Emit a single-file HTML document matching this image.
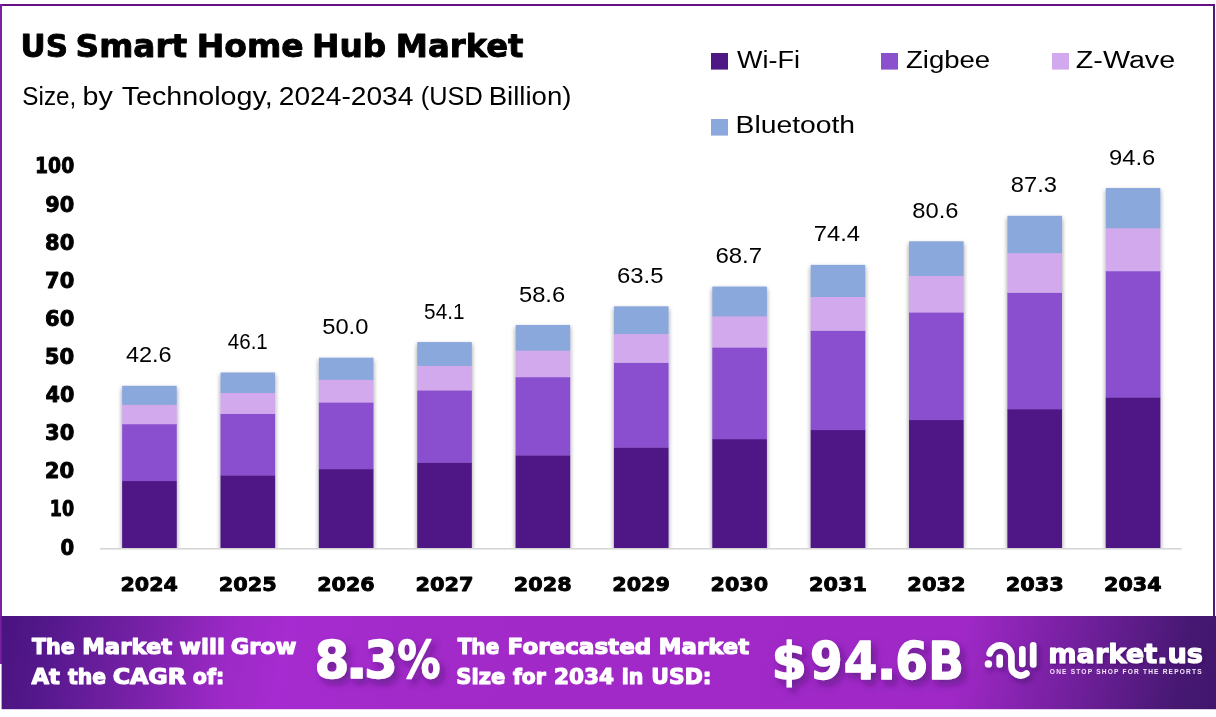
<!DOCTYPE html>
<html lang="en"><head><meta charset="utf-8"><title>US Smart Home Hub Market</title>
<style>html,body{margin:0;padding:0;background:#fff}body{width:1216px;height:717px;overflow:hidden}svg{display:block}text{font-family:"Liberation Sans",sans-serif}</style></head><body>
<svg width="1216" height="717" viewBox="0 0 1216 717">
<defs>
<linearGradient id="bg" gradientUnits="userSpaceOnUse" x1="0" y1="616" x2="1187.1" y2="853.4">
<stop offset="0.0000" stop-color="#49137f"/>
<stop offset="0.0364" stop-color="#52178a"/>
<stop offset="0.1215" stop-color="#7821a8"/>
<stop offset="0.1903" stop-color="#9c29c6"/>
<stop offset="0.2349" stop-color="#a62bd0"/>
<stop offset="0.3402" stop-color="#a22ac9"/>
<stop offset="0.4860" stop-color="#a129c7"/>
<stop offset="0.7841" stop-color="#9f28c6"/>
<stop offset="0.8748" stop-color="#74209f"/>
<stop offset="0.9679" stop-color="#461872"/>
<stop offset="1.0000" stop-color="#41156e"/>
</linearGradient>
<filter id="ts" x="-10%" y="-20%" width="125%" height="160%"><feDropShadow dx="4" dy="5" stdDeviation="3.8" flood-color="#3a0a5e" flood-opacity="0.5"/></filter>
<filter id="ts2" x="-10%" y="-30%" width="125%" height="190%"><feDropShadow dx="1.5" dy="2" stdDeviation="1.6" flood-color="#3a0a5e" flood-opacity="0.45"/></filter>
<filter id="ts3" x="-20%" y="-20%" width="150%" height="160%"><feDropShadow dx="2.5" dy="3.5" stdDeviation="2.5" flood-color="#3a0a5e" flood-opacity="0.55"/></filter>
<filter id="bs" x="-30%" y="-10%" width="160%" height="120%"><feDropShadow dx="0" dy="2.5" stdDeviation="2" flood-color="#20202a" flood-opacity="0.5"/></filter>
</defs>
<rect width="1216" height="717" fill="#fff"/>
<rect x="0" y="4" width="1215" height="2" fill="#650f82"/>
<rect x="0" y="4" width="2" height="660" fill="#7a1fa2"/>
<rect x="1213" y="4" width="2" height="614" fill="#4d1c74"/>
<rect x="100" y="548" width="1081.7" height="1.6" fill="#d6d6d6"/>
<clipPath id="pc"><rect x="90" y="140" width="1110" height="408"/></clipPath><g clip-path="url(#pc)">
<g filter="url(#bs)">
<rect x="122.15" y="480.81" width="54.60" height="67.29" fill="#4f1985"/>
<rect x="122.15" y="423.95" width="54.60" height="57.16" fill="#8a50ce"/>
<rect x="122.15" y="404.59" width="54.60" height="19.66" fill="#d1a9ec"/>
<rect x="122.15" y="385.79" width="54.60" height="19.09" fill="#8ba8dc"/>
</g>
<g filter="url(#bs)">
<rect x="220.51" y="475.22" width="54.60" height="72.88" fill="#4f1985"/>
<rect x="220.51" y="413.68" width="54.60" height="61.84" fill="#8a50ce"/>
<rect x="220.51" y="392.73" width="54.60" height="21.25" fill="#d1a9ec"/>
<rect x="220.51" y="372.48" width="54.60" height="20.55" fill="#8ba8dc"/>
</g>
<g filter="url(#bs)">
<rect x="318.87" y="468.98" width="54.60" height="79.12" fill="#4f1985"/>
<rect x="318.87" y="402.24" width="54.60" height="67.04" fill="#8a50ce"/>
<rect x="318.87" y="379.52" width="54.60" height="23.02" fill="#d1a9ec"/>
<rect x="318.87" y="357.65" width="54.60" height="22.17" fill="#8ba8dc"/>
</g>
<g filter="url(#bs)">
<rect x="417.23" y="462.42" width="54.60" height="85.68" fill="#4f1985"/>
<rect x="417.23" y="390.20" width="54.60" height="72.52" fill="#8a50ce"/>
<rect x="417.23" y="365.62" width="54.60" height="24.89" fill="#d1a9ec"/>
<rect x="417.23" y="342.06" width="54.60" height="23.86" fill="#8ba8dc"/>
</g>
<g filter="url(#bs)">
<rect x="515.59" y="455.20" width="54.60" height="92.90" fill="#4f1985"/>
<rect x="515.59" y="376.98" width="54.60" height="78.52" fill="#8a50ce"/>
<rect x="515.59" y="350.35" width="54.60" height="26.93" fill="#d1a9ec"/>
<rect x="515.59" y="324.94" width="54.60" height="25.71" fill="#8ba8dc"/>
</g>
<g filter="url(#bs)">
<rect x="613.95" y="447.34" width="54.60" height="100.76" fill="#4f1985"/>
<rect x="613.95" y="362.58" width="54.60" height="85.06" fill="#8a50ce"/>
<rect x="613.95" y="333.72" width="54.60" height="29.16" fill="#d1a9ec"/>
<rect x="613.95" y="306.31" width="54.60" height="27.71" fill="#8ba8dc"/>
</g>
<g filter="url(#bs)">
<rect x="712.31" y="438.98" width="54.60" height="109.12" fill="#4f1985"/>
<rect x="712.31" y="347.28" width="54.60" height="92.00" fill="#8a50ce"/>
<rect x="712.31" y="316.06" width="54.60" height="31.52" fill="#d1a9ec"/>
<rect x="712.31" y="286.53" width="54.60" height="29.82" fill="#8ba8dc"/>
</g>
<g filter="url(#bs)">
<rect x="810.67" y="429.81" width="54.60" height="118.29" fill="#4f1985"/>
<rect x="810.67" y="330.50" width="54.60" height="99.61" fill="#8a50ce"/>
<rect x="810.67" y="296.69" width="54.60" height="34.11" fill="#d1a9ec"/>
<rect x="810.67" y="264.86" width="54.60" height="32.13" fill="#8ba8dc"/>
</g>
<g filter="url(#bs)">
<rect x="909.03" y="419.83" width="54.60" height="128.27" fill="#4f1985"/>
<rect x="909.03" y="312.24" width="54.60" height="107.89" fill="#8a50ce"/>
<rect x="909.03" y="275.61" width="54.60" height="36.93" fill="#d1a9ec"/>
<rect x="909.03" y="241.28" width="54.60" height="34.63" fill="#8ba8dc"/>
</g>
<g filter="url(#bs)">
<rect x="1007.39" y="409.02" width="54.60" height="139.08" fill="#4f1985"/>
<rect x="1007.39" y="292.49" width="54.60" height="116.83" fill="#8a50ce"/>
<rect x="1007.39" y="252.82" width="54.60" height="39.97" fill="#d1a9ec"/>
<rect x="1007.39" y="215.80" width="54.60" height="37.32" fill="#8ba8dc"/>
</g>
<g filter="url(#bs)">
<rect x="1105.75" y="397.24" width="54.60" height="150.86" fill="#4f1985"/>
<rect x="1105.75" y="270.96" width="54.60" height="126.58" fill="#8a50ce"/>
<rect x="1105.75" y="227.97" width="54.60" height="43.29" fill="#d1a9ec"/>
<rect x="1105.75" y="188.04" width="54.60" height="40.23" fill="#8ba8dc"/>
</g>
</g>
<rect x="711" y="53" width="17" height="16.6" fill="#4f1985"/>
<rect x="881" y="53" width="17" height="16.6" fill="#8a50ce"/>
<rect x="1052" y="53" width="17" height="16.6" fill="#d1a9ec"/>
<rect x="711" y="119" width="17" height="16.6" fill="#8ba8dc"/>
<rect x="1.6" y="616" width="1214.4" height="93.2" fill="url(#bg)"/>
<g filter="url(#ts3)" fill="none" stroke="#fff" stroke-width="6.6" stroke-linecap="round" stroke-linejoin="round">
<path d="M989.6 653.5 A11.1 11.1 0 0 1 1011.4 656.5 L1011.4 666.3 A9.3 9.3 0 0 0 1026.4 673.5"/>
<path d="M999.7 657.6 L999.7 664.4"/>
<path d="M1022.3 649.2 L1022.3 664.0"/>
<path d="M1033.2 645.4 L1033.2 664.4"/>
<circle cx="988.4" cy="663.9" r="3.7" fill="#fff" stroke="none"/>
</g>
<text y="56.65" font-size="31.507" font-weight="700" fill="#000" style="font-family:'DejaVu Sans', 'Liberation Sans', sans-serif" stroke="#000" stroke-width="0.9" stroke-linejoin="round" ><tspan x="20.56" textLength="47.46" lengthAdjust="spacingAndGlyphs">US</tspan> <tspan x="75.56" textLength="111.68" lengthAdjust="spacingAndGlyphs">Smart</tspan> <tspan x="196.79" textLength="106.85" lengthAdjust="spacingAndGlyphs">Home</tspan> <tspan x="312.00" textLength="74.22" lengthAdjust="spacingAndGlyphs">Hub</tspan> <tspan x="395.85" textLength="127.69" lengthAdjust="spacingAndGlyphs">Market</tspan></text>
<text y="105.40" font-size="25.217" font-weight="400" fill="#000" style="font-family:'Liberation Sans', sans-serif" ><tspan x="22.33" textLength="53.90" lengthAdjust="spacingAndGlyphs">Size,</tspan> <tspan x="82.48" textLength="30.32" lengthAdjust="spacingAndGlyphs">by</tspan> <tspan x="121.73" textLength="150.99" lengthAdjust="spacingAndGlyphs">Technology,</tspan> <tspan x="278.79" textLength="134.64" lengthAdjust="spacingAndGlyphs">2024-2034</tspan> <tspan x="420.88" textLength="61.78" lengthAdjust="spacingAndGlyphs">(USD</tspan> <tspan x="488.69" textLength="82.77" lengthAdjust="spacingAndGlyphs">Billion)</tspan></text>
<text y="67.60" font-size="24.058" font-weight="400" fill="#000" style="font-family:'Liberation Sans', sans-serif" ><tspan x="737.00" textLength="62.88" lengthAdjust="spacingAndGlyphs">Wi-Fi</tspan></text>
<text y="67.60" font-size="24.058" font-weight="400" fill="#000" style="font-family:'Liberation Sans', sans-serif" ><tspan x="905.97" textLength="84.22" lengthAdjust="spacingAndGlyphs">Zigbee</tspan></text>
<text y="67.70" font-size="23.913" font-weight="400" fill="#000" style="font-family:'Liberation Sans', sans-serif" ><tspan x="1075.84" textLength="99.30" lengthAdjust="spacingAndGlyphs">Z-Wave</tspan></text>
<text y="133.10" font-size="24.058" font-weight="400" fill="#000" style="font-family:'Liberation Sans', sans-serif" ><tspan x="735.54" textLength="119.55" lengthAdjust="spacingAndGlyphs">Bluetooth</tspan></text>
<text y="554.55" font-size="20.395" font-weight="700" fill="#000" style="font-family:'DejaVu Sans', 'Liberation Sans', sans-serif" stroke="#000" stroke-width="0.9" stroke-linejoin="round" ><tspan x="60.56" textLength="13.69" lengthAdjust="spacingAndGlyphs">0</tspan></text>
<text y="516.44" font-size="20.395" font-weight="700" fill="#000" style="font-family:'DejaVu Sans', 'Liberation Sans', sans-serif" stroke="#000" stroke-width="0.9" stroke-linejoin="round" ><tspan x="49.83" textLength="24.32" lengthAdjust="spacingAndGlyphs">10</tspan></text>
<text y="478.33" font-size="20.395" font-weight="700" fill="#000" style="font-family:'DejaVu Sans', 'Liberation Sans', sans-serif" stroke="#000" stroke-width="0.9" stroke-linejoin="round" ><tspan x="44.87" textLength="29.45" lengthAdjust="spacingAndGlyphs">20</tspan></text>
<text y="440.22" font-size="20.395" font-weight="700" fill="#000" style="font-family:'DejaVu Sans', 'Liberation Sans', sans-serif" stroke="#000" stroke-width="0.9" stroke-linejoin="round" ><tspan x="45.09" textLength="29.22" lengthAdjust="spacingAndGlyphs">30</tspan></text>
<text y="402.11" font-size="20.395" font-weight="700" fill="#000" style="font-family:'DejaVu Sans', 'Liberation Sans', sans-serif" stroke="#000" stroke-width="0.9" stroke-linejoin="round" ><tspan x="45.52" textLength="28.77" lengthAdjust="spacingAndGlyphs">40</tspan></text>
<text y="364.00" font-size="20.395" font-weight="700" fill="#000" style="font-family:'DejaVu Sans', 'Liberation Sans', sans-serif" stroke="#000" stroke-width="0.9" stroke-linejoin="round" ><tspan x="44.87" textLength="29.45" lengthAdjust="spacingAndGlyphs">50</tspan></text>
<text y="325.89" font-size="20.395" font-weight="700" fill="#000" style="font-family:'DejaVu Sans', 'Liberation Sans', sans-serif" stroke="#000" stroke-width="0.9" stroke-linejoin="round" ><tspan x="45.09" textLength="29.22" lengthAdjust="spacingAndGlyphs">60</tspan></text>
<text y="287.78" font-size="20.395" font-weight="700" fill="#000" style="font-family:'DejaVu Sans', 'Liberation Sans', sans-serif" stroke="#000" stroke-width="0.9" stroke-linejoin="round" ><tspan x="45.09" textLength="29.22" lengthAdjust="spacingAndGlyphs">70</tspan></text>
<text y="249.67" font-size="20.395" font-weight="700" fill="#000" style="font-family:'DejaVu Sans', 'Liberation Sans', sans-serif" stroke="#000" stroke-width="0.9" stroke-linejoin="round" ><tspan x="45.09" textLength="29.22" lengthAdjust="spacingAndGlyphs">80</tspan></text>
<text y="211.56" font-size="20.395" font-weight="700" fill="#000" style="font-family:'DejaVu Sans', 'Liberation Sans', sans-serif" stroke="#000" stroke-width="0.9" stroke-linejoin="round" ><tspan x="45.31" textLength="29.00" lengthAdjust="spacingAndGlyphs">90</tspan></text>
<text y="173.45" font-size="20.395" font-weight="700" fill="#000" style="font-family:'DejaVu Sans', 'Liberation Sans', sans-serif" stroke="#000" stroke-width="0.9" stroke-linejoin="round" ><tspan x="35.09" textLength="39.12" lengthAdjust="spacingAndGlyphs">100</tspan></text>
<text y="591.35" font-size="19.868" font-weight="700" fill="#000" style="font-family:'DejaVu Sans', 'Liberation Sans', sans-serif" stroke="#000" stroke-width="0.9" stroke-linejoin="round" ><tspan x="120.45" textLength="57.49" lengthAdjust="spacingAndGlyphs">2024</tspan></text>
<text y="591.35" font-size="19.868" font-weight="700" fill="#000" style="font-family:'DejaVu Sans', 'Liberation Sans', sans-serif" stroke="#000" stroke-width="0.9" stroke-linejoin="round" ><tspan x="218.80" textLength="57.93" lengthAdjust="spacingAndGlyphs">2025</tspan></text>
<text y="591.35" font-size="19.868" font-weight="700" fill="#000" style="font-family:'DejaVu Sans', 'Liberation Sans', sans-serif" stroke="#000" stroke-width="0.9" stroke-linejoin="round" ><tspan x="317.17" textLength="57.49" lengthAdjust="spacingAndGlyphs">2026</tspan></text>
<text y="591.35" font-size="19.868" font-weight="700" fill="#000" style="font-family:'DejaVu Sans', 'Liberation Sans', sans-serif" stroke="#000" stroke-width="0.9" stroke-linejoin="round" ><tspan x="415.52" textLength="58.15" lengthAdjust="spacingAndGlyphs">2027</tspan></text>
<text y="591.35" font-size="19.868" font-weight="700" fill="#000" style="font-family:'DejaVu Sans', 'Liberation Sans', sans-serif" stroke="#000" stroke-width="0.9" stroke-linejoin="round" ><tspan x="513.89" textLength="57.71" lengthAdjust="spacingAndGlyphs">2028</tspan></text>
<text y="591.35" font-size="19.868" font-weight="700" fill="#000" style="font-family:'DejaVu Sans', 'Liberation Sans', sans-serif" stroke="#000" stroke-width="0.9" stroke-linejoin="round" ><tspan x="612.25" textLength="57.71" lengthAdjust="spacingAndGlyphs">2029</tspan></text>
<text y="591.35" font-size="19.868" font-weight="700" fill="#000" style="font-family:'DejaVu Sans', 'Liberation Sans', sans-serif" stroke="#000" stroke-width="0.9" stroke-linejoin="round" ><tspan x="710.61" textLength="57.49" lengthAdjust="spacingAndGlyphs">2030</tspan></text>
<text y="591.35" font-size="19.868" font-weight="700" fill="#000" style="font-family:'DejaVu Sans', 'Liberation Sans', sans-serif" stroke="#000" stroke-width="0.9" stroke-linejoin="round" ><tspan x="808.96" textLength="57.93" lengthAdjust="spacingAndGlyphs">2031</tspan></text>
<text y="591.35" font-size="19.868" font-weight="700" fill="#000" style="font-family:'DejaVu Sans', 'Liberation Sans', sans-serif" stroke="#000" stroke-width="0.9" stroke-linejoin="round" ><tspan x="907.31" textLength="58.37" lengthAdjust="spacingAndGlyphs">2032</tspan></text>
<text y="591.35" font-size="19.868" font-weight="700" fill="#000" style="font-family:'DejaVu Sans', 'Liberation Sans', sans-serif" stroke="#000" stroke-width="0.9" stroke-linejoin="round" ><tspan x="1005.68" textLength="58.15" lengthAdjust="spacingAndGlyphs">2033</tspan></text>
<text y="591.35" font-size="19.868" font-weight="700" fill="#000" style="font-family:'DejaVu Sans', 'Liberation Sans', sans-serif" stroke="#000" stroke-width="0.9" stroke-linejoin="round" ><tspan x="1104.05" textLength="57.49" lengthAdjust="spacingAndGlyphs">2034</tspan></text>
<text y="362.38" font-size="21.408" font-weight="400" fill="#000" style="font-family:'Liberation Sans', sans-serif" ><tspan x="125.98" textLength="45.72" lengthAdjust="spacingAndGlyphs">42.6</tspan></text>
<text y="349.07" font-size="21.408" font-weight="400" fill="#000" style="font-family:'Liberation Sans', sans-serif" ><tspan x="227.80" textLength="39.96" lengthAdjust="spacingAndGlyphs">46.1</tspan></text>
<text y="334.24" font-size="21.408" font-weight="400" fill="#000" style="font-family:'Liberation Sans', sans-serif" ><tspan x="322.22" textLength="46.21" lengthAdjust="spacingAndGlyphs">50.0</tspan></text>
<text y="318.64" font-size="21.408" font-weight="400" fill="#000" style="font-family:'Liberation Sans', sans-serif" ><tspan x="424.10" textLength="40.39" lengthAdjust="spacingAndGlyphs">54.1</tspan></text>
<text y="301.53" font-size="21.408" font-weight="400" fill="#000" style="font-family:'Liberation Sans', sans-serif" ><tspan x="518.94" textLength="46.21" lengthAdjust="spacingAndGlyphs">58.6</tspan></text>
<text y="282.90" font-size="21.408" font-weight="400" fill="#000" style="font-family:'Liberation Sans', sans-serif" ><tspan x="617.06" textLength="46.46" lengthAdjust="spacingAndGlyphs">63.5</tspan></text>
<text y="263.12" font-size="21.408" font-weight="400" fill="#000" style="font-family:'Liberation Sans', sans-serif" ><tspan x="715.41" textLength="46.71" lengthAdjust="spacingAndGlyphs">68.7</tspan></text>
<text y="241.44" font-size="21.408" font-weight="400" fill="#000" style="font-family:'Liberation Sans', sans-serif" ><tspan x="813.78" textLength="46.21" lengthAdjust="spacingAndGlyphs">74.4</tspan></text>
<text y="217.86" font-size="21.408" font-weight="400" fill="#000" style="font-family:'Liberation Sans', sans-serif" ><tspan x="912.38" textLength="46.21" lengthAdjust="spacingAndGlyphs">80.6</tspan></text>
<text y="192.38" font-size="21.408" font-weight="400" fill="#000" style="font-family:'Liberation Sans', sans-serif" ><tspan x="1010.74" textLength="46.21" lengthAdjust="spacingAndGlyphs">87.3</tspan></text>
<text y="164.62" font-size="21.408" font-weight="400" fill="#000" style="font-family:'Liberation Sans', sans-serif" ><tspan x="1109.10" textLength="46.21" lengthAdjust="spacingAndGlyphs">94.6</tspan></text>
<text y="654.20" font-size="21.370" font-weight="700" fill="#fff" style="font-family:'DejaVu Sans', 'Liberation Sans', sans-serif" stroke="#fff" stroke-width="1.2" stroke-linejoin="round" ><tspan x="32.00" textLength="42.90" lengthAdjust="spacingAndGlyphs">The</tspan> <tspan x="82.25" textLength="89.96" lengthAdjust="spacingAndGlyphs">Market</tspan> <tspan x="179.61" textLength="45.21" lengthAdjust="spacingAndGlyphs">will</tspan> <tspan x="230.80" textLength="65.55" lengthAdjust="spacingAndGlyphs">Grow</tspan></text>
<text y="684.10" font-size="21.370" font-weight="700" fill="#fff" style="font-family:'DejaVu Sans', 'Liberation Sans', sans-serif" stroke="#fff" stroke-width="1.2" stroke-linejoin="round" ><tspan x="31.40" textLength="28.41" lengthAdjust="spacingAndGlyphs">At</tspan> <tspan x="68.00" textLength="37.98" lengthAdjust="spacingAndGlyphs">the</tspan> <tspan x="112.65" textLength="73.42" lengthAdjust="spacingAndGlyphs">CAGR</tspan> <tspan x="192.87" textLength="31.39" lengthAdjust="spacingAndGlyphs">of:</tspan></text>
<text y="677.73" font-size="52.368" font-weight="700" fill="#fff" style="font-family:'DejaVu Sans', 'Liberation Sans', sans-serif" stroke="#fff" stroke-width="1.3" stroke-linejoin="round" filter="url(#ts)"><tspan x="314.45" textLength="34.79" lengthAdjust="spacingAndGlyphs">8</tspan><tspan x="345.29" textLength="23.00" lengthAdjust="spacingAndGlyphs">.</tspan><tspan x="364.18" textLength="33.30" lengthAdjust="spacingAndGlyphs">3</tspan><tspan x="397.36" textLength="43.24" lengthAdjust="spacingAndGlyphs">%</tspan></text>
<text y="654.20" font-size="21.370" font-weight="700" fill="#fff" style="font-family:'DejaVu Sans', 'Liberation Sans', sans-serif" stroke="#fff" stroke-width="1.2" stroke-linejoin="round" ><tspan x="457.70" textLength="41.57" lengthAdjust="spacingAndGlyphs">The</tspan> <tspan x="507.63" textLength="143.62" lengthAdjust="spacingAndGlyphs">Forecasted</tspan> <tspan x="658.85" textLength="90.26" lengthAdjust="spacingAndGlyphs">Market</tspan></text>
<text y="684.10" font-size="21.370" font-weight="700" fill="#fff" style="font-family:'DejaVu Sans', 'Liberation Sans', sans-serif" stroke="#fff" stroke-width="1.2" stroke-linejoin="round" ><tspan x="456.22" textLength="48.99" lengthAdjust="spacingAndGlyphs">Size</tspan> <tspan x="512.90" textLength="32.76" lengthAdjust="spacingAndGlyphs">for</tspan> <tspan x="554.09" textLength="60.00" lengthAdjust="spacingAndGlyphs">2034</tspan> <tspan x="621.76" textLength="21.61" lengthAdjust="spacingAndGlyphs">in</tspan> <tspan x="651.34" textLength="60.05" lengthAdjust="spacingAndGlyphs">USD:</tspan></text>
<text y="678.84" font-size="50.921" font-weight="700" fill="#fff" style="font-family:'DejaVu Sans', 'Liberation Sans', sans-serif" stroke="#fff" stroke-width="1.3" stroke-linejoin="round" filter="url(#ts)"><tspan x="771.59" textLength="35.41" lengthAdjust="spacingAndGlyphs">$</tspan><tspan x="809.91" textLength="32.55" lengthAdjust="spacingAndGlyphs">9</tspan><tspan x="843.72" textLength="33.65" lengthAdjust="spacingAndGlyphs">4</tspan><tspan x="876.52" textLength="20.26" lengthAdjust="spacingAndGlyphs">.</tspan><tspan x="895.33" textLength="32.67" lengthAdjust="spacingAndGlyphs">6</tspan><tspan x="928.35" textLength="35.61" lengthAdjust="spacingAndGlyphs">B</tspan></text>
<text y="663.35" font-size="27.091" font-weight="700" fill="#fff" style="font-family:'DejaVu Sans', 'Liberation Sans', sans-serif" stroke="#fff" stroke-width="1.1" stroke-linejoin="round" filter="url(#ts2)"><tspan x="1048.17" textLength="154.91" lengthAdjust="spacingAndGlyphs">market.us</tspan></text>
<text y="673.60" font-size="6.571" font-weight="700" fill="#f6e4fb" style="font-family:'Liberation Sans', sans-serif" letter-spacing="1.183" ><tspan x="1049.83" textLength="153.01" lengthAdjust="spacingAndGlyphs">ONE STOP SHOP FOR THE REPORTS</tspan></text>
</svg></body></html>
